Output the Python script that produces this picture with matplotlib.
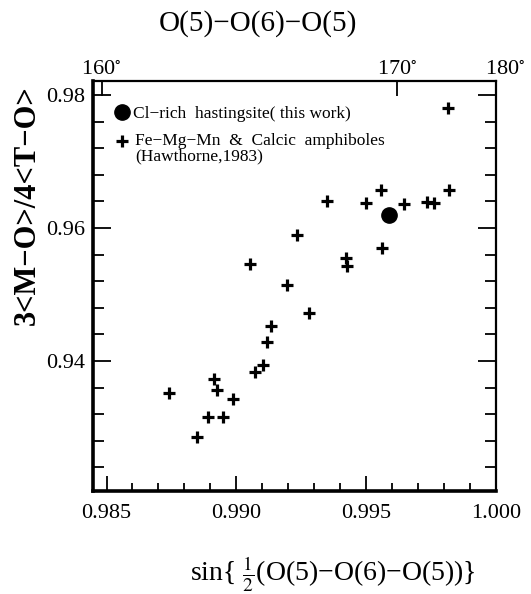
import numpy as np
import matplotlib
matplotlib.use("Agg")
import matplotlib.pyplot as plt
from matplotlib.lines import Line2D
from matplotlib.ticker import MultipleLocator, FixedLocator
import matplotlib.transforms as mtransforms

plt.rcParams['font.family'] = ['Liberation Serif', 'DejaVu Serif']
plt.rcParams['mathtext.fontset'] = 'stix'

# Hawthorne (1983) Fe-Mg-Mn & calcic amphiboles
ref_x = [0.98741, 0.98849, 0.98891, 0.98947, 0.98913, 0.98925, 0.98989,
         0.99072, 0.99104, 0.99120, 0.99135, 0.99053, 0.99233, 0.99196,
         0.99282, 0.99349, 0.99424, 0.99428, 0.99500, 0.99558, 0.99561,
         0.99648, 0.99735, 0.99764, 0.99821, 0.99816]
ref_y = [0.93514, 0.92862, 0.93153, 0.93153, 0.93725, 0.93564, 0.93424,
         0.93839, 0.93940, 0.94290, 0.94526, 0.95454, 0.95895, 0.95143,
         0.94717, 0.96406, 0.95549, 0.95429, 0.96371, 0.96571, 0.95695,
         0.96356, 0.96395, 0.96371, 0.96571, 0.97805]

# Cl-rich hastingsite (this work)
this_x = [0.99589]
this_y = [0.96195]

x_ticks = [0.985, 0.990, 0.995, 1.000]
x_ticklabels = ['0.985', '0.990', '0.995', '1.000']
y_ticks = [0.94, 0.96, 0.98]
y_ticklabels = ['0.94', '0.96', '0.98']
top_deg = [160, 170, 180]

W, H = 531, 594
fig = plt.figure(figsize=(W / 100, H / 100), dpi=100)
L, R, T, B = 93.3, 495.7, 81, 491
ax = fig.add_axes([L / W, 1 - B / H, (R - L) / W, (B - T) / H])

PLUS = dict(linestyle='none', marker='+', ms=8.5, mew=2.3, color='black')
DOT = dict(linestyle='none', marker='o', ms=11, color='black')

ax.plot(ref_x, ref_y, **PLUS)
ax.plot(this_x, this_y, **DOT)

ax.set_xlim(0.98449, 1.0000)
ax.set_ylim(0.92045, 0.98211)

ax.xaxis.set_major_locator(FixedLocator(x_ticks))
ax.set_xticklabels(x_ticklabels)
ax.xaxis.set_minor_locator(MultipleLocator(0.001))
ax.yaxis.set_major_locator(FixedLocator(y_ticks))
ax.set_yticklabels(y_ticklabels)
ax.yaxis.set_minor_locator(MultipleLocator(0.004))

ax.tick_params(axis='both', which='both', direction='in', width=1.3,
               top=False, right=True)
ax.tick_params(axis='x', which='major', length=11, labelsize=16, pad=9)
ax.tick_params(axis='x', which='minor', length=6)
ax.tick_params(axis='y', which='major', length=13, labelsize=16, pad=6)
ax.tick_params(axis='y', which='minor', length=8)

for s in ['left', 'bottom']:
    ax.spines[s].set_linewidth(2.6)
for s in ['top', 'right']:
    ax.spines[s].set_linewidth(1.6)

# top axis: O(5)-O(6)-O(5) angle
ax2 = ax.twiny()
ax2.set_xlim(ax.get_xlim())
ax2.set_xticks([np.sin(np.radians(d / 2.0)) for d in top_deg])
ax2.set_xticklabels([f"{d}" + r"$^{\circ}$" for d in top_deg])
ax2.tick_params(axis='x', direction='in', length=11, width=1.3,
                labelsize=16, pad=1)
for s in ax2.spines.values():
    s.set_visible(False)
lab = ax2.get_xticklabels()[-1]
lab.set_transform(lab.get_transform() +
                  mtransforms.ScaledTranslation(7 / 72, 0, fig.dpi_scale_trans))

# legend
handles = [Line2D([], [], **DOT), Line2D([], [], **PLUS)]
labels = ['Cl\u2212rich  hastingsite( this work)', ' ']
ax.legend(handles, labels, loc='upper left',
          bbox_to_anchor=(0.055, 0.94), frameon=False, fontsize=12.5,
          handlelength=0.8, handletextpad=0.2, labelspacing=0.78,
          borderpad=0, borderaxespad=0)
ax.text(0.1036, 0.8355,
        'Fe\u2212Mg\u2212Mn  &  Calcic  amphiboles\n(Hawthorne,1983)',
        transform=ax.transAxes, fontsize=12.5, ha='left', va='center',
        linespacing=0.98)

fig.text(258 / W, 1 - 24 / H, 'O(5)\u2212O(6)\u2212O(5)', fontsize=21,
         ha='center', va='center')
fig.text(333 / W, 1 - 574 / H,
         r'sin{ $\frac{1}{2}$(O(5)' + '\u2212O(6)\u2212O(5))}',
         fontsize=20, ha='center', va='center')
fig.text(27 / W, 1 - 205 / H, '3<M\u2212O>/4<T\u2212O>', rotation=90,
         fontsize=22, fontweight='bold', ha='center', va='center')

fig.savefig('out.png', dpi=100)
